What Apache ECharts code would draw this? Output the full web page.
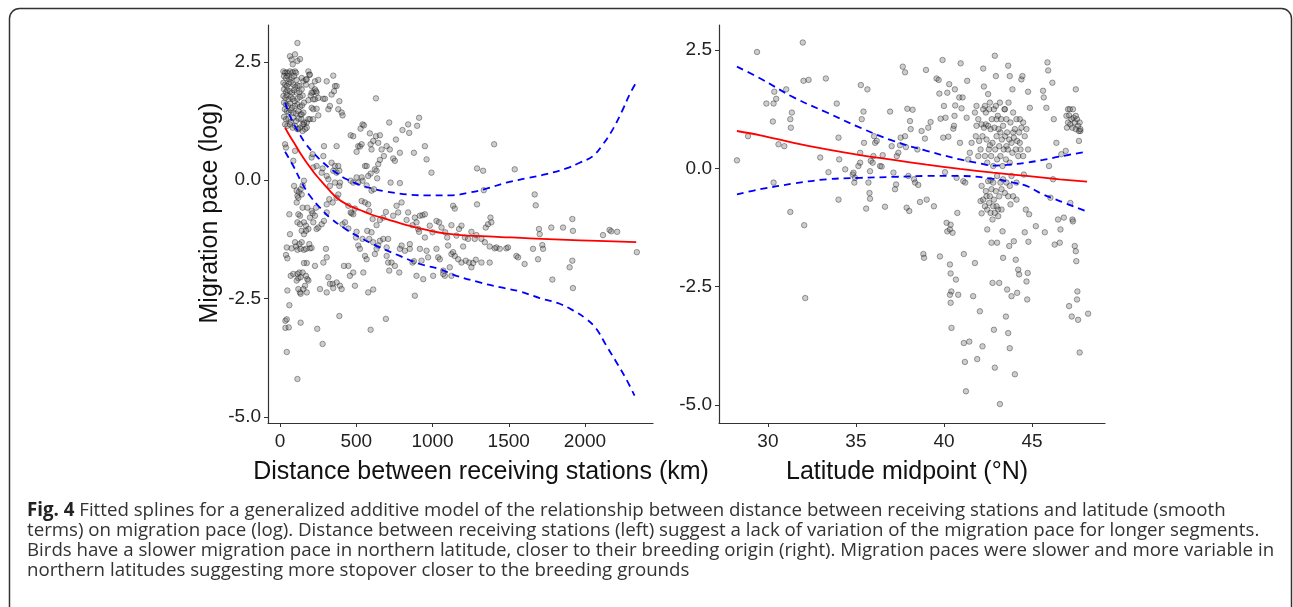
<!DOCTYPE html>
<html>
<head>
<meta charset="utf-8">
<title>Fig. 4</title>
<script src="https://cdn.jsdelivr.net/npm/echarts@6/dist/echarts.min.js"></script>
<style>
    html, body { margin: 0; padding: 0; background: #fff; }
    #chart { width: 1293px; height: 607px; }
</style>
</head>
<body>
<div id="chart"></div>
<script>
// tick labels
var distTicks = [0, 500, 1000, 1500, 2000];
var latTicks = [30, 35, 40, 45];
var paceTicks = [-5, -2.5, 0, 2.5];

// left panel: distance (km) vs migration pace (log)
var distPoints = [
    [22,2.30],[33,2.27],[44,2.28],[55,2.26],[65,2.30],[83,2.28],[98,2.30],[105,2.27],
    [26,2.20],[39,2.16],[48,2.20],[61,2.13],[76,2.16],[92,2.20],[109,2.12],
    [22,2.06],[33,2.02],[44,1.99],[57,2.04],[70,2.07],[87,2.02],[100,1.97],[114,2.00],[127,1.99],
    [26,1.92],[39,1.86],[48,1.90],[65,1.88],[79,1.85],[92,1.90],[109,1.85],[127,1.86],[142,1.92],
    [22,1.78],[35,1.74],[44,1.79],[57,1.71],[70,1.76],[83,1.72],[96,1.67],[114,1.72],[131,1.76],[148,1.79],
    [26,1.64],[39,1.60],[52,1.57],[65,1.62],[79,1.53],[98,1.57],[114,1.60],[131,1.55],[144,1.58],[157,1.64],
    [31,1.50],[44,1.46],[57,1.43],[70,1.48],[87,1.43],[105,1.41],[120,1.46],[135,1.39],[153,1.43],
    [26,1.34],[39,1.29],[55,1.30],[70,1.23],[87,1.32],[105,1.25],[122,1.30],[140,1.29],
    [33,1.18],[48,1.15],[65,1.18],[83,1.11],[98,1.15],[114,1.08],[131,1.11],[148,1.04],[164,1.08],
    [142,2.16],[153,2.09],[170,2.02],[186,2.30],[192,2.23],[175,2.13],[207,1.99],[218,1.86],[229,1.92],
    [240,1.85],[251,1.74],[229,1.71],[201,1.79],[186,1.69],[207,1.53],[218,1.50],[240,1.51],[251,1.37],
    [196,1.29],[218,1.29],[175,1.22],[157,1.18],
    [114,2.90],[65,2.62],[76,2.55],[98,2.66],[131,2.56],[114,2.52],[83,2.45],
    [196,2.23],[170,2.13],[229,2.09],[251,2.12],[306,2.09],[349,2.21],[360,1.99],[371,1.99],[236,1.88],
    [207,1.85],[218,1.71],[284,1.72],[295,1.72],[338,1.81],[354,1.88],[389,1.67],[382,1.50],[404,1.43],
    [410,1.37],[317,1.50],[327,1.57],[629,1.73],[142,1.39],[157,1.22],[186,1.29],[175,1.11],[148,1.18],[120,1.08],
    [33,0.76],[39,0.69],[44,-1.42],[39,-1.58],[48,-1.65],[35,-2.97],[44,-2.94],[35,-3.12],[57,-3.11],
    [44,-3.63],[48,-2.33],[61,-2.64],[65,-1.14],[61,-0.72],[76,-1.44],
    [87,0.41],[98,0.62],[92,-0.12],[109,-0.22],[120,-0.37],[109,-0.47],[114,-0.33],[124,-0.25],[135,-0.19],
    [142,-0.30],[148,-0.11],[157,-0.01],[148,-0.58],[131,-0.75],[120,-0.72],[114,-0.89],[131,-0.93],[142,-1.07],
    [157,-0.89],[170,-0.96],[179,-0.58],[196,-0.79],[207,-0.65],[214,-0.70],[236,-0.58],[229,-0.75],[218,-0.89],
    [186,-1.03],[170,-1.07],[157,-1.14],[142,-1.31],[127,-1.35],[98,-1.31],[105,-1.40],[114,-1.47],[135,-1.45],
    [157,-1.47],[170,-1.45],[196,-1.44],[207,-1.43],[192,-1.35],[240,-1.03],[251,-1.00],[273,-0.93],[288,-0.86],
    [306,-0.68],[306,-0.51],[323,-0.40],[345,-0.47],[371,-0.37],[382,-0.30],[360,-0.05],[389,-0.12],[393,-0.05],
    [371,0.16],[349,0.20],[338,0.37],[360,0.30],[382,0.30],[389,0.20],[371,0.72],[288,0.72],[284,0.51],
    [279,0.25],[273,0.16],[218,0.27],[207,0.48],[214,0.55],[240,0.30],[306,0.09],[317,0.02],[327,-0.12],
    [70,-2.02],[87,-1.98],[109,-2.12],[120,-2.07],[114,-1.98],[127,-1.95],[135,-2.05],[148,-1.95],[170,-2.02],
    [179,-2.09],[186,-2.12],[164,-2.23],[153,-2.30],[131,-2.37],[120,-2.30],[135,-2.40],[175,-2.37],[175,-1.75],
    [157,-1.75],[229,-1.81],[262,-2.30],[284,-1.74],[301,-1.45],[306,-1.63],[317,-2.05],[327,-2.19],[345,-2.19],
    [306,-2.37],[349,-2.28],[371,-2.16],[393,-2.23],[404,-2.30],[389,-2.87],[244,-3.14],[279,-3.46],[114,-4.20],[135,-3.01],
    [410,-0.93],[426,-0.89],[448,-1.02],[469,-0.70],[480,-0.72],[498,-1.21],[502,-1.09],[513,-1.38],[524,-1.45],
    [541,-1.24],[557,-1.60],[568,-1.67],[572,-1.07],[585,-1.24],[600,-1.10],[611,-1.31],[622,-1.56],[633,-1.45],
    [644,-1.38],[655,-1.28],[677,-1.24],[699,-1.42],[709,-1.24],[699,-1.60],[709,-1.74],[731,-1.74],[716,-1.91],
    [753,-1.81],[782,-1.95],[786,-1.45],[797,-1.38],[819,-1.49],[851,-1.45],[851,-1.35],[869,-1.74],[878,-1.71],
    [895,-2.02],[917,-1.45],[928,-1.70],[950,-1.21],[961,-1.49],[971,-1.63],[1004,-2.02],[1026,-1.45],[1037,-1.63],
    [1048,-1.67],[1070,-1.91],[1081,-2.02],[491,-2.23],[546,-1.95],[578,-2.37],[611,-2.31],[480,-1.95],[448,-1.81],
    [419,-1.81],[458,-2.02],
    [463,0.95],[480,0.93],[502,0.60],[513,0.72],[524,0.71],[528,1.09],[541,1.18],[550,1.16],[535,0.76],
    [557,0.30],[568,0.30],[589,0.99],[594,0.76],[600,0.65],[611,0.83],[629,0.93],[644,0.79],[655,0.95],
    [666,0.65],[681,0.51],[699,0.72],[716,1.22],[720,0.65],[742,0.46],[760,0.86],[753,0.41],[786,0.58],
    [803,1.06],[840,1.18],[847,1.00],[878,0.58],[899,1.15],[912,1.32],[950,0.72],[961,0.44],[993,0.16],
    [655,0.43],[644,0.34],[622,0.23],[594,0.14],[578,0.09],[541,-0.01],[535,0.06],[513,-0.05],[480,-0.05],
    [463,-0.01],[502,0.06],[568,-0.11],[600,-0.22],[616,-0.19],[633,0.20],[637,0.04],[725,-0.05],[786,-0.06],
    [448,-0.54],[463,-0.68],[491,-0.60],[535,-0.44],[557,-0.47],[578,-0.51],[585,-0.65],[607,-0.82],[633,-0.95],
    [655,-0.84],[677,-0.79],[694,-0.67],[742,-0.75],[764,-0.54],[775,-0.68],[797,-0.47],[830,-0.84],[840,-0.68],
    [869,-0.95],[884,-0.79],[895,-0.89],[906,-1.03],[912,-1.09],[917,-0.75],[934,-0.74],[950,-0.72],[982,-0.96],
    [1000,-1.10],[1026,-0.86],[1043,-0.89],[1059,-1.00],[1083,-1.10],[1096,-1.21],[1124,-0.95],[1135,-0.54],
    [1146,-0.60],[1157,-1.17],[1174,-1.03],[1190,-0.96],[1212,-1.21],[1233,-1.24],[1255,-1.09],[1277,-1.24],
    [1288,-1.16],[1321,-1.24],[1343,-1.31],[1349,-1.00],[1364,-0.93],[1380,-0.79],[1386,-0.89],[1375,-1.40],
    [1408,-1.44],[1419,-1.42],[1441,-1.45],[1484,-1.44],[1495,-1.42],
    [1102,-1.38],[1124,-1.56],[1135,-1.52],[1146,-1.60],[1168,-1.67],[1190,-1.74],[1201,-1.40],[1218,-1.70],
    [1240,-1.74],[1255,-1.84],[1266,-1.75],[1284,-1.68],[1321,-1.74],[1375,-1.74],[1113,-1.84],[1070,-1.98],
    [1124,-2.02],[939,-2.09],
    [1292,0.25],[1332,0.20],[1404,0.76],[1539,0.23],[1292,-0.51],[1336,-0.21],
    [1550,-1.60],[1561,-1.63],[1604,-1.77],[1659,-1.45],[1670,-0.30],[1677,-0.53],[1692,-1.67],[1698,-1.03],
    [1703,-1.14],[1720,-1.37],[1725,-1.45],[1779,-1.00],[1786,-2.10],[1856,-1.00],[1917,-0.82],[1921,-1.07],
    [1899,-1.84],[1917,-1.70],[1921,-2.28],[2118,-1.16],[2161,-1.05],[2172,-1.08],[2211,-1.09],[2340,-1.52],
    [884,-2.44],[694,-2.93],[594,-3.16]
];
var distFit = [
    [33,1.11],[65,0.93],[98,0.76],[131,0.58],[175,0.37],[218,0.18],[262,0.01],[317,-0.19],[371,-0.37],
    [437,-0.51],[524,-0.63],[611,-0.74],[699,-0.82],[830,-0.95],[961,-1.05],[1092,-1.13],[1222,-1.17],
    [1397,-1.19],[1637,-1.23],[1965,-1.27],[2336,-1.31]
];
var distUpper = [
    [33,1.64],[65,1.36],[109,1.08],[164,0.79],[218,0.58],[284,0.37],[349,0.20],[437,0.02],[524,-0.10],
    [611,-0.18],[699,-0.24],[830,-0.30],[961,-0.32],[1113,-0.32],[1244,-0.26],[1353,-0.18],[1484,-0.05],
    [1615,0.04],[1746,0.13],[1877,0.25],[1965,0.37],[2052,0.51],[2118,0.76],[2183,1.08],[2249,1.50],
    [2292,1.81],[2340,2.09]
];
var distLower = [
    [33,0.60],[87,0.30],[142,-0.05],[196,-0.33],[262,-0.58],[327,-0.79],[415,-1.00],[524,-1.21],[655,-1.42],
    [786,-1.60],[917,-1.77],[1048,-1.88],[1157,-2.02],[1310,-2.16],[1441,-2.26],[1572,-2.35],[1703,-2.49],
    [1834,-2.61],[1921,-2.75],[2008,-2.93],[2074,-3.14],[2139,-3.49],[2205,-3.84],[2270,-4.20],[2325,-4.55]
];

// right panel: latitude midpoint (°N) vs migration pace (log)
var latPoints = [
    [28.24,0.17],[28.87,0.68],[29.38,2.46],[29.91,1.37],[30.28,0.99],[30.32,1.37],[30.36,1.62],[30.47,1.47],
    [30.32,-0.30],[30.60,0.51],[30.93,0.47],[31.04,1.67],[31.27,1.04],[31.30,0.86],[31.36,1.18],[31.27,-0.92],
    [31.98,2.66],[32.02,1.85],[32.31,1.87],[32.06,-1.20],[32.12,-2.74],[32.97,0.23],[33.29,1.90],[33.44,-0.08],
    [33.91,1.37],[34.01,0.65],[34.05,0.19],[34.01,-0.66],[34.39,-0.02],[34.82,-0.13],[34.86,-0.09],[34.91,-0.30],
    [34.95,-0.20],[35.14,0.05],[35.24,0.33],[35.28,1.76],[35.33,1.04],[35.43,1.20],[35.24,0.12],[35.46,0.54],
    [35.58,-0.85],[35.65,1.67],[35.71,-0.30],[35.77,-0.52],[35.80,-0.64],[35.80,-0.06],[35.84,0.16],[35.95,0.12],
    [35.99,0.26],[36.03,0.68],[36.09,0.54],[36.18,0.58],[36.37,0.05],[36.46,0.04],[36.52,0.28],[36.65,-0.81],
    [36.94,1.20],[37.03,0.47],[37.13,-0.09],[37.22,-0.44],[37.28,-0.34],[37.32,0.26],[37.41,0.33],[37.50,0.49],
    [37.54,0.65],[37.66,2.15],[37.79,2.03],[37.79,0.68],[37.84,0.45],[37.88,-0.83],[37.92,1.26],[37.98,-0.16],
    [38.03,-0.90],[38.07,1.00],[38.11,0.83],[38.22,1.24],[38.30,-0.23],[38.36,-0.30],[38.49,0.40],[38.54,-0.35],
    [38.64,-0.71],[38.73,0.79],[38.83,-1.81],[38.87,-1.89],[38.92,0.63],[38.98,2.08],[39.02,-0.66],[39.11,0.86],
    [39.24,0.98],[39.43,-0.80],[39.58,1.90],[39.70,1.87],[39.74,1.58],[39.77,-1.86],[39.81,1.05],[39.92,2.29],
    [39.96,0.65],[40.00,1.32],[40.06,-0.08],[40.09,1.07],[40.15,-1.15],[40.19,-1.33],[40.19,1.60],[40.25,0.67],
    [40.30,1.78],[40.34,-1.29],[40.38,-1.19],[40.34,-2.03],[40.38,-2.22],[40.42,-2.60],[40.34,-2.67],[40.38,-2.84],
    [40.43,-3.37],[40.49,-1.36],[40.53,0.84],[40.57,0.90],[40.60,1.11],[40.62,1.67],[40.64,1.33],[40.68,-2.35],
    [40.72,-0.20],[40.76,-0.94],[40.81,-2.67],[40.87,1.50],[40.91,0.54],[40.95,2.22],[41.00,1.27],[41.06,1.50],
    [41.10,-0.27],[41.13,-1.81],[41.13,-3.69],[41.19,-4.09],[41.21,-0.30],[41.25,-4.71],[41.29,1.07],[41.32,1.85],
    [41.38,0.19],[41.44,-3.66],[41.47,0.33],[41.57,0.54],[41.66,-2.70],[41.76,-2.00],[41.81,0.68],[41.85,1.32],
    [41.89,-4.03],[41.95,0.26],[42.04,-3.02],[42.08,-0.69],[42.14,-0.95],[42.19,-3.76],[42.23,2.11],[42.27,1.73],
    [42.33,1.32],[42.38,0.93],[42.42,-0.59],[42.46,-1.29],[42.51,1.57],[42.57,1.25],[42.61,0.49],[42.65,-0.25],
    [42.70,-1.57],[42.76,-2.42],[42.80,-0.80],[42.84,-3.41],[42.89,2.38],[42.89,-4.21],[42.95,1.95],[42.99,1.04],
    [43.02,-1.57],[43.08,-0.87],[43.14,-2.42],[43.18,-4.98],[43.21,0.76],[43.27,-0.44],[43.33,-1.33],[43.36,-1.89],
    [43.46,1.25],[43.52,-3.13],[43.55,0.47],[43.59,-2.56],[43.65,2.17],[43.65,-3.48],[43.71,-1.64],[43.74,1.95],
    [43.74,-3.80],[43.78,-0.76],[43.84,-2.70],[43.89,1.67],[43.93,0.76],[43.97,-1.54],[44.03,-4.35],[44.08,-1.93],
    [44.12,-0.66],[44.16,-2.63],[44.22,-2.14],[44.27,-2.24],[44.31,1.04],[44.35,0.40],[44.40,1.88],[44.46,1.95],
    [44.50,0.97],[44.54,-0.13],[44.59,-1.35],[44.65,-0.87],[44.69,-2.39],[44.73,-2.77],[44.76,-2.21],[44.80,-1.55],
    [44.78,1.62],[44.84,-0.97],[44.88,1.28],[45.22,-1.22],[45.63,1.64],[45.67,1.50],[45.73,-1.35],[45.82,1.28],
    [45.88,2.24],[45.92,2.07],[45.97,0.05],[46.05,-0.62],[46.16,1.81],[46.20,-0.23],[46.24,1.04],[46.29,-1.61],
    [46.39,0.54],[46.48,-1.08],[46.58,-1.57],[46.62,-1.29],[46.67,0.30],[46.81,-1.04],[46.92,0.37],[46.99,0.86],
    [47.05,1.25],[47.11,-2.91],[47.18,-0.73],[47.26,-3.13],[47.30,-1.08],[47.33,-1.12],[47.43,-1.64],[47.49,1.67],
    [47.49,-1.75],[47.52,-1.96],[47.56,-2.77],[47.58,-2.60],[47.62,-3.20],[47.67,0.58],[47.71,-3.89],[47.75,0.79],
    [48.19,-3.07],
    [41.76,1.18],[41.85,0.90],[41.95,1.04],[42.00,0.58],[42.08,0.40],[42.14,0.93],[42.19,0.68],[42.23,1.25],
    [42.27,0.86],[42.33,0.26],[42.38,1.18],[42.42,0.61],[42.46,0.12],[42.51,0.90],[42.55,0.40],[42.61,1.39],
    [42.65,0.83],[42.68,0.26],[42.72,1.04],[42.76,0.54],[42.80,0.05],[42.84,1.25],[42.87,0.86],[42.91,0.40],
    [42.95,1.32],[42.99,0.68],[43.02,0.19],[43.06,1.11],[43.10,0.83],[43.14,0.47],[43.18,1.39],[43.21,0.26],
    [43.25,1.04],[43.29,0.61],[43.33,0.05],[43.36,0.90],[43.40,0.40],[43.44,1.25],[43.48,0.68],[43.52,0.19],
    [43.55,1.04],[43.59,0.76],[43.63,0.40],[43.67,1.39],[43.71,0.61],[43.74,0.12],[43.78,0.97],[43.84,0.54],
    [43.89,0.33],[43.93,1.18],[43.97,0.65],[44.03,0.83],[44.08,0.40],[44.12,1.04],[44.16,0.58],[44.22,0.26],
    [44.27,0.76],[44.31,0.54],[44.40,0.86],[44.50,0.26],[44.59,0.68],[44.69,0.83],[44.78,0.40],
    [42.14,-0.37],[42.23,-0.66],[42.33,-0.80],[42.38,-0.48],[42.46,-0.87],[42.51,-0.27],[42.57,-0.73],[42.61,-0.59],
    [42.65,-0.94],[42.70,-0.44],[42.76,-1.08],[42.80,-0.30],[42.84,-0.66],[42.89,-0.94],[42.95,-0.48],[42.99,-0.80],
    [43.02,-0.16],[43.08,-1.01],[43.14,-0.59],[43.21,-0.30],[43.27,-0.87],[43.36,-0.23],[43.46,-0.52],[43.55,-0.30],
    [43.65,-0.59],[43.74,-0.37],[43.84,-0.16],[43.93,-0.59],[44.12,-0.30],
    [46.96,1.11],[47.05,0.97],[47.11,1.12],[47.18,0.93],[47.24,1.04],[47.30,0.86],[47.37,1.07],[47.43,0.97],
    [47.49,0.83],[47.56,1.04],[47.62,0.90],[47.67,0.79],[47.71,0.97],[47.75,0.83],[47.33,1.25],[47.15,1.25],[47.49,1.11]
];
var latFit = [
    [28.24,0.79],[29.57,0.70],[31.46,0.54],[33.35,0.40],[35.24,0.28],[37.13,0.18],[39.02,0.08],
    [40.91,-0.01],[42.80,-0.09],[44.69,-0.16],[46.58,-0.23],[48.13,-0.28]
];
var latUpper = [
    [28.24,2.15],[29.57,1.90],[31.46,1.50],[33.35,1.18],[35.24,0.86],[37.13,0.58],[39.02,0.37],[40.91,0.19],
    [41.85,0.12],[42.80,0.06],[43.74,0.08],[44.69,0.12],[45.63,0.18],[46.58,0.25],[48.05,0.35]
];
var latLower = [
    [28.24,-0.55],[29.57,-0.44],[31.46,-0.32],[33.35,-0.23],[35.24,-0.20],[37.13,-0.18],[39.02,-0.16],
    [40.91,-0.16],[42.80,-0.22],[43.93,-0.30],[44.69,-0.37],[45.63,-0.55],[46.58,-0.69],[48.05,-0.90]
];

var captionLines = [
    'Fitted splines for a generalized additive model of the relationship between distance between receiving stations and latitude (smooth',
    'terms) on migration pace (log). Distance between receiving stations (left) suggest a lack of variation of the migration pace for longer segments.',
    'Birds have a slower migration pace in northern latitude, closer to their breeding origin (right). Migration paces were slower and more variable in',
    'northern latitudes suggesting more stopover closer to the breeding grounds'
];

var axisFont = 'Liberation Sans, Arial, sans-serif';
var axisColor = '#333';
var capFont = 'Open Sans, Noto Sans, sans-serif';

function makeXAxis(idx, min, max, ticks) {
    return {
        type: 'value', gridIndex: idx, min: min, max: max,
        axisLine: { show: true, onZero: false, lineStyle: { color: axisColor, width: 1.2 } },
        axisTick: { show: true, length: 4, customValues: ticks, lineStyle: { color: axisColor } },
        axisLabel: {
            customValues: ticks, margin: 9, fontSize: 19, color: '#222', fontFamily: axisFont,
            formatter: function (v) { return String(v); }
        },
        splitLine: { show: false }
    };
}
function makeYAxis(idx, min, max) {
    return {
        type: 'value', gridIndex: idx, min: min, max: max,
        axisLine: { show: true, onZero: false, lineStyle: { color: axisColor, width: 1.2 } },
        axisTick: { show: true, length: 4, customValues: paceTicks, lineStyle: { color: axisColor } },
        axisLabel: {
            customValues: paceTicks, margin: 7, fontSize: 19, color: '#222', fontFamily: axisFont,
            formatter: function (v) { return Number(v).toFixed(1); }
        },
        splitLine: { show: false }
    };
}
function pts(idx, data) {
    return {
        type: 'scatter', xAxisIndex: idx, yAxisIndex: idx, data: data,
        symbol: 'circle', symbolSize: 5.5, silent: true,
        itemStyle: { color: 'rgba(100,100,100,0.4)', borderColor: 'rgba(0,0,0,0.55)', borderWidth: 0.8 }
    };
}
function curve(idx, data, color, dashed) {
    return {
        type: 'line', xAxisIndex: idx, yAxisIndex: idx, data: data,
        smooth: 0.4, showSymbol: false, silent: true, z: 5,
        lineStyle: { color: color, width: 1.8, type: dashed ? [7, 5] : 'solid' }
    };
}

var captionRich = captionLines.map(function (s, i) {
    return i === 0 ? '{b|Fig. 4} ' + s : s;
}).join('\n');

var option = {
    animation: false,
    backgroundColor: '#fff',
    grid: [
        { left: 268, top: 25, width: 385, height: 398 },
        { left: 719, top: 25, width: 386, height: 398 }
    ],
    xAxis: [
        makeXAxis(0, -79, 2446, distTicks),
        makeXAxis(1, 27.22, 49.15, latTicks)
    ],
    yAxis: [
        makeYAxis(0, -5.13, 3.28),
        makeYAxis(1, -5.38, 3.03)
    ],
    series: [
        pts(0, distPoints),
        curve(0, distUpper, '#0000ff', true),
        curve(0, distLower, '#0000ff', true),
        curve(0, distFit, '#ff0000', false),
        pts(1, latPoints),
        curve(1, latUpper, '#0000ff', true),
        curve(1, latLower, '#0000ff', true),
        curve(1, latFit, '#ff0000', false)
    ],
    graphic: [
        {
            type: 'rect', silent: true,
            shape: { x: 9.5, y: 8.5, width: 1282, height: 640, r: 10 },
            style: { fill: 'none', stroke: '#333', lineWidth: 1.5 }
        },
        {
            type: 'text', x: 210, y: 213, rotation: Math.PI / 2, silent: true,
            style: {
                text: 'Migration pace (log)', fill: '#111', font: '25px Liberation Sans, Arial, sans-serif',
                align: 'center', verticalAlign: 'middle'
            }
        },
        {
            type: 'text', x: 481, y: 472, silent: true,
            style: {
                text: 'Distance between receiving stations (km)', fill: '#111',
                font: '25px Liberation Sans, Arial, sans-serif', align: 'center', verticalAlign: 'middle'
            }
        },
        {
            type: 'text', x: 907, y: 472, silent: true,
            style: {
                text: 'Latitude midpoint (°N)', fill: '#111',
                font: '25px Liberation Sans, Arial, sans-serif', align: 'center', verticalAlign: 'middle'
            }
        },
        {
            type: 'text', x: 27, y: 501, silent: true,
            style: {
                text: captionRich, fill: '#333', fontSize: 18.7, fontFamily: capFont,
                lineHeight: 20,
                rich: {
                    b: { fontWeight: 'bold', fill: '#222', fontSize: 18.7, fontFamily: capFont, lineHeight: 20 }
                }
            }
        }
    ]
};

var chart = echarts.init(document.getElementById('chart'), null, { renderer: 'canvas' });
chart.setOption(option);
</script>
</body>
</html>
